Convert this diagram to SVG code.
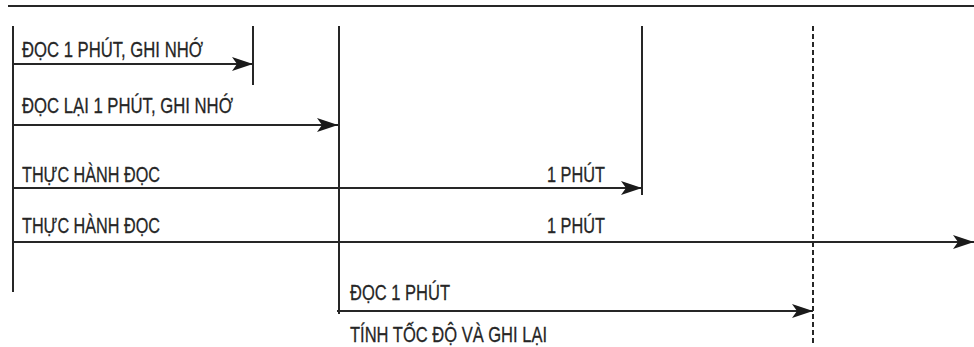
<svg xmlns="http://www.w3.org/2000/svg" width="974" height="347" viewBox="0 0 974 347">
<style>
.t{font-family:"Liberation Sans","Arial",sans-serif;font-size:22px;fill:#262626;stroke:#262626;stroke-width:0.3}
.l{stroke:#262626;stroke-width:2;fill:none}
.d{stroke:#262626;stroke-width:2;fill:none;stroke-dasharray:5 3}
</style>
<defs>
<marker id="ah" markerUnits="userSpaceOnUse" markerWidth="22" markerHeight="14" refX="21" refY="7" orient="auto">
<path d="M0,0 L21,7 L0,14 L5,7 z" fill="#1a1a1a"/>
</marker>
</defs>
<rect width="974" height="347" fill="#fff"/>
<g id="frame">
<line class="l" x1="8" y1="6" x2="974" y2="6"/>
<line class="l" x1="13" y1="26" x2="13" y2="292"/>
<line class="l" x1="253" y1="26" x2="253" y2="85"/>
<line class="l" x1="339" y1="26" x2="339" y2="314"/>
<line class="l" x1="642" y1="26" x2="642" y2="195"/>
<line class="d" x1="813" y1="26" x2="813" y2="346"/>
</g>
<g id="connectors">
<line class="l" x1="13" y1="64" x2="253" y2="64" marker-end="url(#ah)"/>
<line class="l" x1="13" y1="125" x2="338" y2="125" marker-end="url(#ah)"/>
<line class="l" x1="13" y1="188" x2="642" y2="188" marker-end="url(#ah)"/>
<line class="l" x1="13" y1="242" x2="974" y2="242" marker-end="url(#ah)"/>
<line class="l" x1="337" y1="311" x2="813" y2="311" marker-end="url(#ah)"/>
</g>
<g id="n1"><text class="t" x="22" y="57" textLength="181" lengthAdjust="spacingAndGlyphs">ĐỌC 1 PHÚT, GHI NHỚ</text></g>
<g id="n2"><text class="t" x="22" y="113" textLength="211" lengthAdjust="spacingAndGlyphs">ĐỌC LẠI 1 PHÚT, GHI NHỚ</text></g>
<g id="n3"><text class="t" x="22" y="182" textLength="138" lengthAdjust="spacingAndGlyphs">THỰC HÀNH ĐỌC</text></g>
<g id="n4"><text class="t" x="547" y="182" textLength="58" lengthAdjust="spacingAndGlyphs">1 PHÚT</text></g>
<g id="n5"><text class="t" x="22" y="233" textLength="138" lengthAdjust="spacingAndGlyphs">THỰC HÀNH ĐỌC</text></g>
<g id="n6"><text class="t" x="547" y="233" textLength="58" lengthAdjust="spacingAndGlyphs">1 PHÚT</text></g>
<g id="n7"><text class="t" x="350" y="300" textLength="100" lengthAdjust="spacingAndGlyphs">ĐỌC 1 PHÚT</text></g>
<g id="n8"><text class="t" x="350" y="342" textLength="197" lengthAdjust="spacingAndGlyphs">TÍNH TỐC ĐỘ VÀ GHI LẠI</text></g>
</svg>
